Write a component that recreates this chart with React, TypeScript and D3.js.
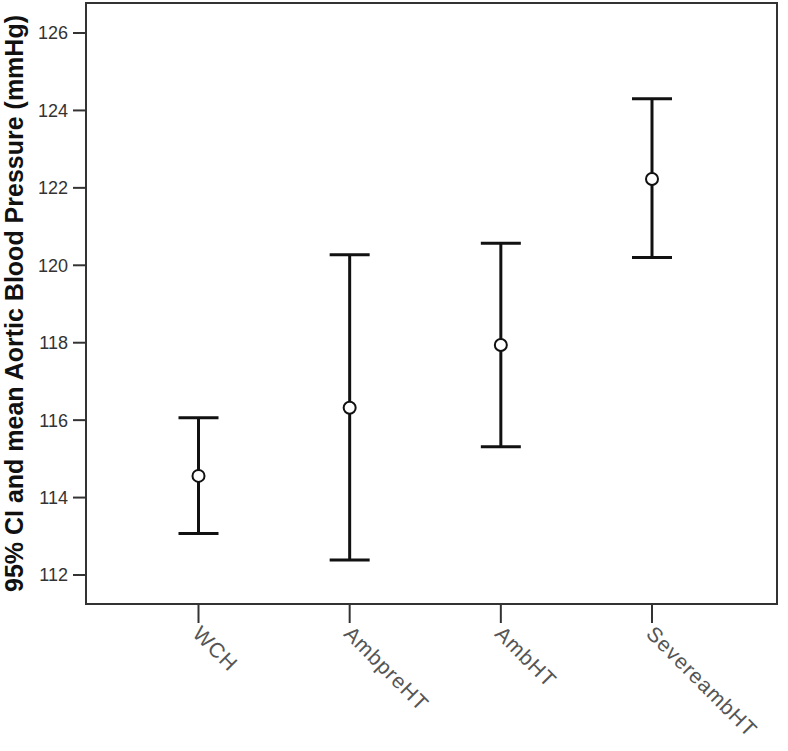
import React from 'react';
import * as d3 from 'd3';

// groups and their 95% CI
const groups = ['WCH', 'AmbpreHT', 'AmbHT', 'SevereambHT'];
const means = [114.56, 116.32, 117.94, 122.23];
const lower = [113.07, 112.39, 115.31, 120.2];
const upper = [116.06, 120.27, 120.57, 124.3];
const yTicks = [112, 114, 116, 118, 120, 122, 124, 126];

const W = 788;
const H = 751;
const left = 86;
const right = 777;
const top = 3;
const bottom = 604;

export default function App() {
  const x = d3.scalePoint<string>().domain(groups).range([left + 112.5, right - 125]);
  const y = d3.scaleLinear().domain([112, 126]).range([575, 33]);
  const capHalf = 20;

  return (
    <svg width={W} height={H} style={{ position: 'absolute', left: 0, top: 0, fontFamily: '"Liberation Sans", Arial, sans-serif' }}>
      <rect x={0} y={0} width={W} height={H} fill="#fff" />
      <rect x={left} y={top} width={right - left} height={bottom - top} fill="none" stroke="#333" strokeWidth={2} />

      {yTicks.map(t => (
        <g key={t}>
          <line x1={left - 13} x2={left} y1={y(t)} y2={y(t)} stroke="#333" strokeWidth={2} />
          <text x={left - 18} y={y(t)} dy="0.36em" textAnchor="end" fontSize={18} fill="#333">{t}</text>
        </g>
      ))}

      {groups.map(g => {
        const cx = x(g)!;
        return (
          <g key={g}>
            <line x1={cx} x2={cx} y1={bottom} y2={bottom + 19} stroke="#333" strokeWidth={2} />
            <text transform={`translate(${cx - 7},${bottom + 31}) rotate(45)`} fontSize={21} letterSpacing={1} fill="#555">{g}</text>
          </g>
        );
      })}

      {groups.map((g, i) => {
        const cx = x(g)!;
        return (
          <g key={'bar' + g} stroke="#111" strokeWidth={3} fill="none">
            <line x1={cx} x2={cx} y1={y(upper[i])} y2={y(lower[i])} />
            <line x1={cx - capHalf} x2={cx + capHalf} y1={y(upper[i])} y2={y(upper[i])} />
            <line x1={cx - capHalf} x2={cx + capHalf} y1={y(lower[i])} y2={y(lower[i])} />
            <circle cx={cx} cy={y(means[i])} r={6} fill="#fff" strokeWidth={2} />
          </g>
        );
      })}

      <text
        transform={`translate(23,${(top + bottom) / 2}) rotate(-90)`}
        textAnchor="middle"
        fontSize={25}
        fontWeight="bold"
        fill="#111"
      >
        95% CI and mean Aortic Blood Pressure (mmHg)
      </text>
    </svg>
  );
}
